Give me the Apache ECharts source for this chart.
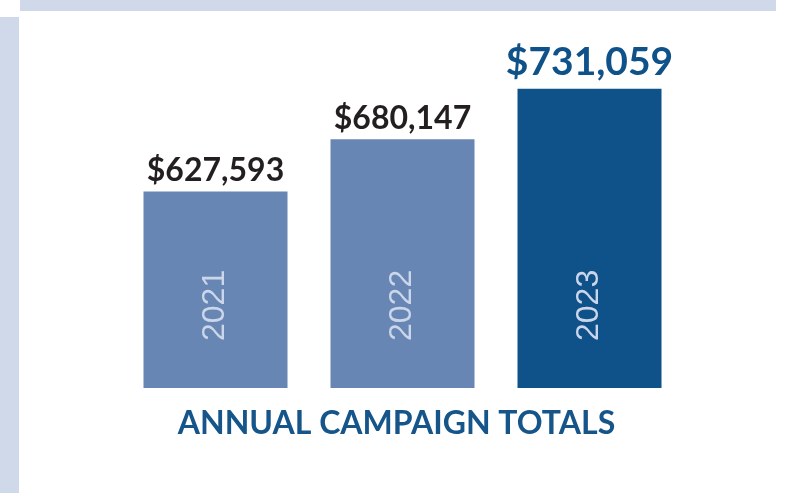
<!DOCTYPE html>
<html>
<head>
<meta charset="utf-8">
<script src="https://cdn.jsdelivr.net/npm/echarts@6/dist/echarts.min.js"></script>
<style>
html,body{margin:0;padding:0;background:#fff;}
#chart{width:793px;height:493px;}
</style>
</head>
<body>
<div id="chart"></div>
<script>
// 年份 / 金额
var years = ['2021', '2022', '2023'];
var totals = [627593, 680147, 731059];
var barColors = ['#6786b3', '#6786b3', '#0e5289'];

function money(v) {
	return '$' + v.toLocaleString('en-US');
}

var chart = echarts.init(document.getElementById('chart'));

var seriesData = totals.map(function (v, i) {
	var last = i === totals.length - 1;
	return {
		value: v,
		itemStyle: { color: barColors[i] },
		label: {
			color: last ? '#0e5289' : '#231f20',
			fontSize: last ? 39 : 32,
			distance: last ? 7 : 5
		}
	};
});

var option = {
	animation: false,
	backgroundColor: '#fff',
	// 装饰边框
	graphic: [
		{ type: 'rect', shape: { x: 20, y: 0, width: 756, height: 11 }, style: { fill: '#cfd9ea' }, silent: true },
		{ type: 'rect', shape: { x: 0, y: 17, width: 19, height: 476 }, style: { fill: '#cfd9ea' }, silent: true },
		{
			type: 'text', left: 'center', top: 408,
			style: { text: 'ANNUAL CAMPAIGN TOTALS', fill: '#15558a', font: 'bold 32px Lato', textAlign: 'center' }
		}
	],
	grid: { left: 122, right: 110, top: 40, bottom: 105 },
	xAxis: {
		type: 'category',
		data: years,
		axisLine: { show: false },
		axisTick: { show: false },
		axisLabel: {
			inside: true,
			rotate: 90,
			margin: 47,
			color: '#cbd6ea',
			fontFamily: 'Liberation Sans',
			fontSize: 32
		},
		z: 10
	},
	yAxis: {
		type: 'value',
		min: 430000,
		max: 780000,
		show: false,
		splitLine: { show: false }
	},
	series: [{
		type: 'bar',
		barWidth: 144,
		data: seriesData,
		label: {
			show: true,
			position: 'top',
			fontFamily: 'Lato',
			fontWeight: 'bold',
			formatter: function (p) { return money(p.value); }
		}
	}]
};

chart.setOption(option);
</script>
</body>
</html>
